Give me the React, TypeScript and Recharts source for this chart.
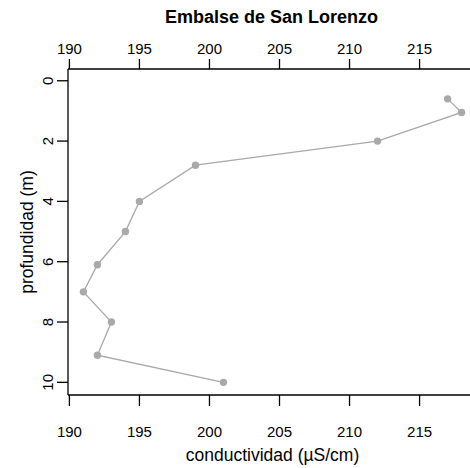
import React from 'react';
import { ScatterChart, Scatter, XAxis, YAxis } from 'recharts';

const conductividad = [217, 218, 212, 199, 195, 194, 192, 191, 193, 192, 201];
const profundidad = [0.6, 1.05, 2.0, 2.8, 4.0, 5.0, 6.1, 7.0, 8.0, 9.1, 10.0];
const xTicks = [190, 195, 200, 205, 210, 215];
const yTicks = [0, 2, 4, 6, 8, 10];
const title = 'Embalse de San Lorenzo';
const xLabel = 'conductividad (µS/cm)';
const yLabel = 'profundidad (m)';

const data = conductividad.map((c, i) => ({ c, d: profundidad[i] }));

const FONT = '"Liberation Sans", Arial, Helvetica, sans-serif';
const GRAY = '#a9a9a9';

const BottomTick = (props: any) => (
  <text x={props.x} y={431} textAnchor="middle" dominantBaseline="central" fontSize={15} fontFamily={FONT} fill="#000">
    {props.payload.value}
  </text>
);
const TopTick = (props: any) => (
  <text x={props.x} y={48} textAnchor="middle" dominantBaseline="central" fontSize={15} fontFamily={FONT} fill="#000">
    {props.payload.value}
  </text>
);
const LeftTick = (props: any) => (
  <text
    x={48}
    y={props.y}
    transform={`rotate(-90 48 ${props.y})`}
    textAnchor="middle"
    dominantBaseline="central"
    fontSize={15}
    fontFamily={FONT}
    fill="#000"
  >
    {props.payload.value}
  </text>
);

const Dot = (props: any) => <circle cx={props.cx} cy={props.cy} r={3.7} fill={GRAY} />;

export default function App() {
  return (
    <div style={{ position: 'absolute', left: 0, top: 0, width: 470, height: 468, background: '#fff', fontFamily: FONT }}>
      <ScatterChart width={470} height={468} margin={{ top: 0, right: 0, bottom: 0, left: 0 }}>
        <XAxis
          xAxisId="bottom"
          orientation="bottom"
          type="number"
          dataKey="c"
          domain={[189.9, 218.6]}
          ticks={xTicks}
          allowDataOverflow
          height={73}
          tickSize={11}
          tick={<BottomTick />}
          axisLine={{ stroke: '#000', strokeWidth: 1.3 }}
          tickLine={{ stroke: '#000', strokeWidth: 1.3 }}
        />
        <XAxis
          xAxisId="top"
          orientation="top"
          type="number"
          dataKey="c"
          domain={[189.9, 218.6]}
          ticks={xTicks}
          allowDataOverflow
          height={69}
          tickSize={10}
          tick={<TopTick />}
          axisLine={{ stroke: '#000', strokeWidth: 1.3 }}
          tickLine={{ stroke: '#000', strokeWidth: 1.3 }}
        />
        <YAxis
          yAxisId="left"
          type="number"
          dataKey="d"
          domain={[-0.39, 10.42]}
          reversed
          ticks={yTicks}
          allowDataOverflow
          width={68}
          tickSize={11}
          tick={<LeftTick />}
          axisLine={{ stroke: '#000', strokeWidth: 1.3 }}
          tickLine={{ stroke: '#000', strokeWidth: 1.3 }}
        />
        <Scatter
          xAxisId="bottom"
          yAxisId="left"
          data={data}
          fill={GRAY}
          line={{ stroke: GRAY, strokeWidth: 1.3 }}
          lineType="joint"
          shape={<Dot />}
          isAnimationActive={false}
        />
      </ScatterChart>
      <div
        style={{
          position: 'absolute', left: 71.5, top: 7, width: 400, height: 20, lineHeight: '20px',
          textAlign: 'center', fontWeight: 'bold', fontSize: 18, color: '#000',
        }}
      >
        {title}
      </div>
      <div
        style={{
          position: 'absolute', left: 72.5, top: 445, width: 400, height: 20, lineHeight: '20px',
          textAlign: 'center', fontSize: 17.5, color: '#000',
        }}
      >
        {xLabel}
      </div>
      <div
        style={{
          position: 'absolute', left: 27 - 100, top: 231.5 - 10, width: 200, height: 20, lineHeight: '20px',
          textAlign: 'center', fontSize: 17.5, color: '#000', transform: 'rotate(-90deg)',
        }}
      >
        {yLabel}
      </div>
    </div>
  );
}
